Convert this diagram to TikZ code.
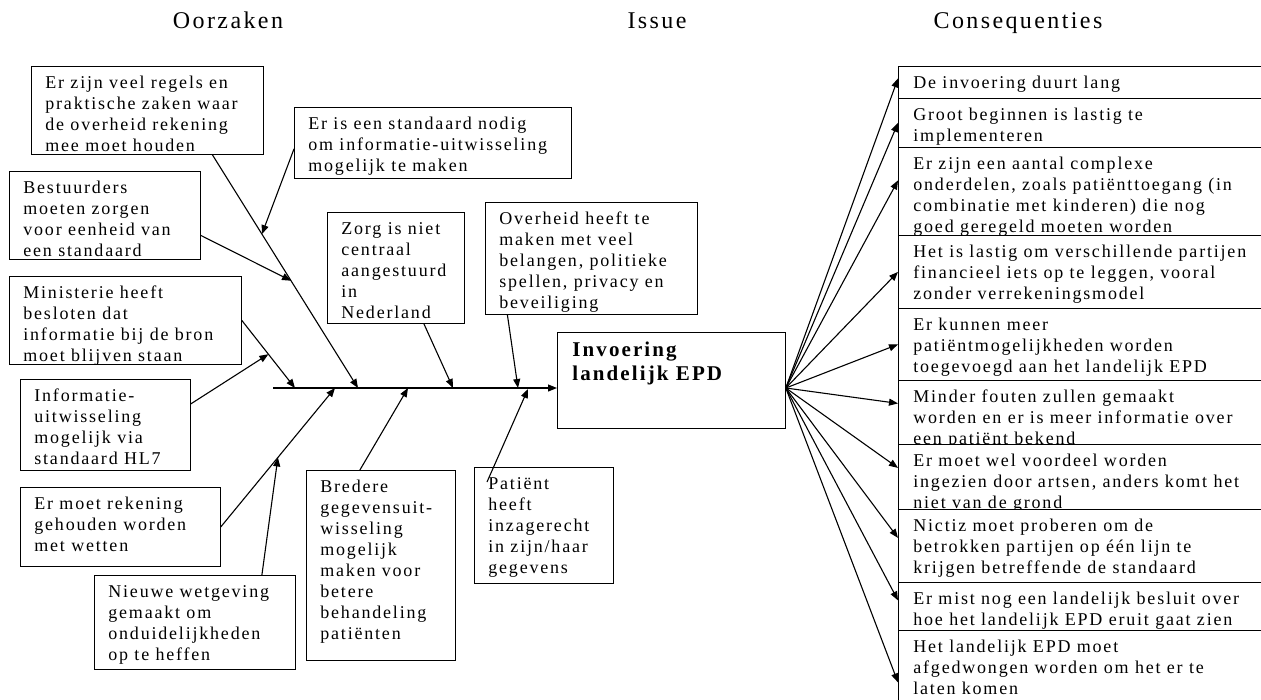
\documentclass[tikz,border=0pt]{standalone}
\usepackage{fontspec}
\setmainfont{Liberation Serif}[LetterSpace=10]
\usetikzlibrary{arrows.meta}

% text block of a box: width, height, lines
\newcommand{\boxtxt}[3]{\parbox[t][#2][t]{#1}{\vspace{7pt}\raggedright\strut#3}}

\begin{document}
\begin{tikzpicture}[
x=1pt, y=-1pt,
cause/.style={draw, line width=0.8pt, anchor=north west, inner xsep=14pt, inner ysep=0pt,
  font=\fontsize{18}{21}\selectfont},
effect/.style={cause, fill=white, inner xsep=15pt},
title/.style={anchor=base, font=\fontsize{24}{28}\selectfont},
arr/.style={-{Triangle[length=9pt,width=7pt]}, line width=1.1pt},
]
  \useasboundingbox (0,0) rectangle (1261,699);

  % headings
  \node[title] (oorzaken) at (228,28) {Oorzaken};
  \node[title] (issue) at (657,28) {Issue};
  \node[title] (gevolgen) at (1018,28) {Consequenties};

  % causes
  \node[cause] (regels) at (31,66) {\boxtxt{204pt}{88pt}{Er zijn veel regels en\\praktische zaken waar\\de overheid rekening\\mee moet houden}};
  \node[cause] (standaard) at (294,107) {\boxtxt{249pt}{71pt}{Er is een standaard nodig\\om informatie-uitwisseling\\mogelijk te maken}};
  \node[cause] (bestuur) at (9,171) {\boxtxt{163pt}{88pt}{Bestuurders\\moeten zorgen\\voor eenheid van\\een standaard}};
  \node[cause] (zorg) at (327,212) {\boxtxt{109pt}{111pt}{Zorg is niet\\centraal\\aangestuurd\\in\\Nederland}};
  \node[cause] (overheid) at (485,202) {\boxtxt{184pt}{112pt}{Overheid heeft te\\maken met veel\\belangen, politieke\\spellen, privacy en\\beveiliging}};
  \node[cause] (minist) at (9,276) {\boxtxt{204pt}{88pt}{Ministerie heeft\\besloten dat\\informatie bij de bron\\moet blijven staan}};
  \node[cause] (hl7) at (20,379) {\boxtxt{142pt}{91pt}{Informatie-\\uitwisseling\\mogelijk via\\standaard HL7}};
  \node[cause] (wetten) at (20,487) {\boxtxt{172pt}{79pt}{Er moet rekening\\gehouden worden\\met wetten}};
  \node[cause] (wetgev) at (94,575) {\boxtxt{173pt}{94pt}{Nieuwe wetgeving\\gemaakt om\\onduidelijkheden\\op te heffen}};
  \node[cause] (bredere) at (306,470) {\boxtxt{121pt}{190pt}{Bredere\\gegevensuit-\\wisseling\\mogelijk\\maken voor\\betere\\behandeling\\patiënten}};
  \node[cause] (patient) at (474,467) {\boxtxt{111pt}{116pt}{Patiënt\\heeft\\inzagerecht\\in zijn/haar\\gegevens}};

  % issue
  \node[cause, inner xsep=15pt, font=\fontsize{21}{24}\selectfont\bfseries] (epd) at (557,332) {\boxtxt{198pt}{96pt}{Invoering\\landelijk EPD}};

  % consequences
  \node[effect] (c1) at (898,66) {\boxtxt{360pt}{32pt}{De invoering duurt lang}};
  \node[effect] (c2) at (898,98) {\boxtxt{360pt}{49pt}{Groot beginnen is lastig te\\implementeren}};
  \node[effect] (c3) at (898,147) {\boxtxt{360pt}{88pt}{Er zijn een aantal complexe\\onderdelen, zoals patiënttoegang (in\\combinatie met kinderen) die nog\\goed geregeld moeten worden}};
  \node[effect] (c4) at (898,235) {\boxtxt{360pt}{73pt}{Het is lastig om verschillende partijen\\financieel iets op te leggen, vooral\\zonder verrekeningsmodel}};
  \node[effect] (c5) at (898,308) {\boxtxt{360pt}{72pt}{Er kunnen meer\\patiëntmogelijkheden worden\\toegevoegd aan het landelijk EPD}};
  \node[effect] (c6) at (898,380) {\boxtxt{360pt}{64pt}{Minder fouten zullen gemaakt\\worden en er is meer informatie over\\een patiënt bekend}};
  \node[effect] (c7) at (898,444) {\boxtxt{360pt}{65pt}{Er moet wel voordeel worden\\ingezien door artsen, anders komt het\\niet van de grond}};
  \node[effect] (c8) at (898,509) {\boxtxt{360pt}{73pt}{Nictiz moet proberen om de\\betrokken partijen op één lijn te\\krijgen betreffende de standaard}};
  \node[effect] (c9) at (898,582) {\boxtxt{360pt}{48pt}{Er mist nog een landelijk besluit over\\hoe het landelijk EPD eruit gaat zien}};
  \node[effect] (c10) at (898,630) {\boxtxt{360pt}{80pt}{Het landelijk EPD moet\\afgedwongen worden om het er te\\laten komen}};

  % spine
  \coordinate (tail) at (273,388);
  \coordinate (sF) at (295,388);
  \coordinate (sH) at (335,388);
  \coordinate (sA) at (358,388);
  \coordinate (sJ) at (408,388);
  \coordinate (sD) at (453,388);
  \coordinate (sE) at (518,388);
  \coordinate (sK) at (528,389);
  \draw[arr] (tail) -- (tail -| epd.west);

  % bones
  \draw[arr] ([xshift=65pt]regels.south) -- (sA) coordinate[pos=0.34] (onA1) coordinate[pos=0.54] (onA2);
  \draw[arr] ([yshift=-6pt]standaard.west) -- (onA1);
  \draw[arr] ([yshift=-20pt]bestuur.east) -- (onA2);
  \draw[arr] (minist.east) -- (sF) coordinate[pos=0.5] (onF);
  \draw[arr] ([yshift=21pt]hl7.east) -- (onF);
  \draw[arr] (wetten.east) -- (sH) coordinate[pos=0.5] (onH);
  \draw[arr] ([xshift=67pt]wetgev.north) -- (onH);
  \draw[arr] ([xshift=-21pt]bredere.north) -- (sJ);
  \draw[arr] ([xshift=28pt]zorg.south) -- (sD);
  \draw[arr] ([xshift=-84pt]overheid.south) -- (sE);
  \draw[arr] ([xshift=13pt,yshift=-15pt]patient.north west) -- (sK);

  % fan to the consequences
  \coordinate (fan) at (epd.east |- tail);
  \draw[arr] (fan) -- ([yshift=4pt]c1.west);
  \draw[arr] (fan) -- (c2.west);
  \draw[arr] (fan) -- ([yshift=11pt]c3.west);
  \draw[arr] (fan) -- (c4.west);
  \draw[arr] (fan) -- (c5.west);
  \draw[arr] (fan) -- ([yshift=9pt]c6.west);
  \draw[arr] (fan) -- ([yshift=9pt]c7.west);
  \draw[arr] (fan) -- ([yshift=8pt]c8.west);
  \draw[arr] (fan) -- ([yshift=6pt]c9.west);
  \draw[arr] (fan) -- ([yshift=-12pt]c10.west);
\end{tikzpicture}
\end{document}
